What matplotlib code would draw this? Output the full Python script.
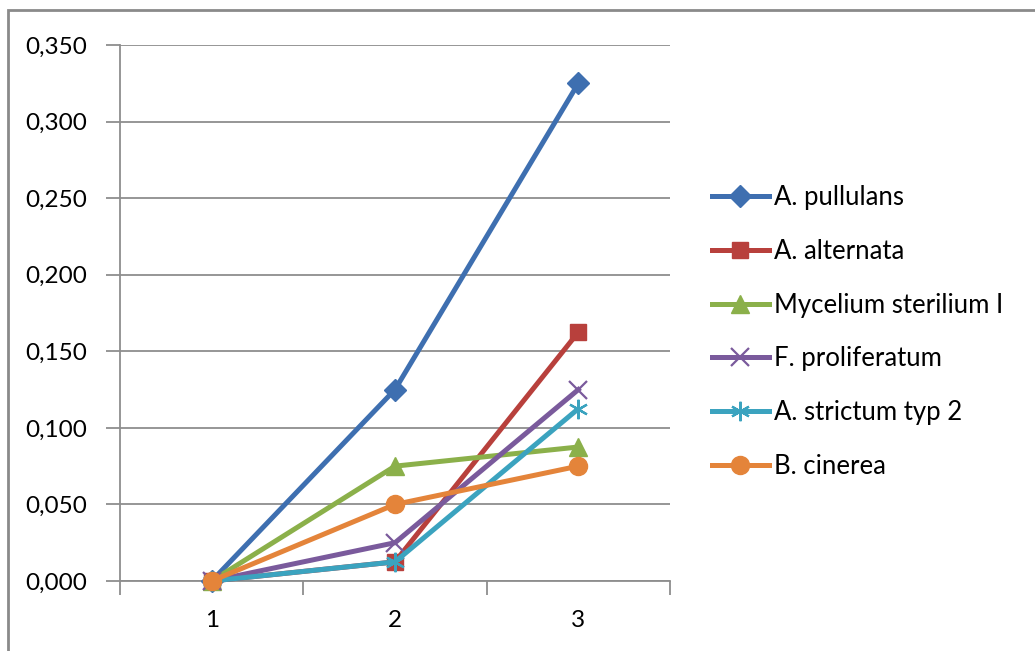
import matplotlib.pyplot as plt
from matplotlib.patches import Rectangle

# ---- data ------------------------------------------------------------------

categories = [1, 2, 3]
series_names = [
    "A. pullulans",
    "A. alternata",
    "Mycelium sterilium I",
    "F. proliferatum",
    "A. strictum typ 2",
    "B. cinerea",
]
pullulans = [0.000, 0.125, 0.325]
alternata = [0.000, 0.0125, 0.1625]
mycelium = [0.000, 0.075, 0.0875]
proliferatum = [0.000, 0.025, 0.125]
strictum = [0.000, 0.0125, 0.1125]
cinerea = [0.000, 0.050, 0.075]
y_ticks = [0.0, 0.05, 0.10, 0.15, 0.20, 0.25, 0.30, 0.35]

# ---- style -----------------------------------------------------------------

plt.rcParams["font.family"] = ["Lato", "DejaVu Sans"]
GRID = "#8e8e8e"
styles = [
    dict(color="#3e6fb0", marker="D", ms=11.5),
    dict(color="#b8403c", marker="s", ms=12),
    dict(color="#8bb04a", marker="^", ms=13.5),
    dict(color="#7a5a9c", marker="x", ms=13, mew=1.6),
    dict(color="#3ba3bf", marker=(6, 2, 0), ms=14, mew=1.6),
    dict(color="#e4843a", marker="o", ms=13),
]
values = [pullulans, alternata, mycelium, proliferatum, strictum, cinerea]

fig = plt.figure(figsize=(10.35, 6.51), dpi=100)
ax = fig.add_axes([120 / 1035, 1 - 581 / 651, 550 / 1035, 536 / 651])

for name, vals, st in zip(series_names, values, styles):
    ax.plot(categories, vals, lw=3.6, label=name, color=st["color"],
            marker=st["marker"], ms=st["ms"], mfc=st["color"], mec=st["color"],
            mew=st.get("mew", 1.0), clip_on=False, zorder=3)

ax.set_xlim(0.5, 3.5)
ax.set_ylim(0, 0.35)
ax.set_yticks(y_ticks)
ax.set_yticklabels([f"{v:.3f}".replace(".", ",") for v in y_ticks])
ax.yaxis.grid(True, color=GRID, lw=1.3)
ax.set_axisbelow(True)

# category boundaries carry the tick marks, labels sit between them
ax.set_xticks([0.5, 1.5, 2.5, 3.5])
ax.set_xticklabels([])
ax.set_xticks(categories, minor=True)
ax.set_xticklabels([str(c) for c in categories], minor=True)
ax.tick_params(axis="x", which="major", length=10, width=1.3, color=GRID)
ax.tick_params(axis="x", which="minor", length=0, pad=21, labelsize=17.5)
ax.tick_params(axis="y", length=10, width=1.3, color=GRID, pad=14, labelsize=17.5)

for side in ("top", "right"):
    ax.spines[side].set_visible(False)
for side in ("left", "bottom"):
    ax.spines[side].set_color(GRID)
    ax.spines[side].set_linewidth(1.3)

fig.legend(loc="center left", bbox_to_anchor=(712 / 1035, 1 - 332 / 651),
           frameon=False, fontsize=18.5, handlelength=2.2, handletextpad=0.2,
           labelspacing=1.12, borderpad=0, borderaxespad=0)

# outer chart frame
fig.patches.append(Rectangle((8 / 1035, -0.05), 1.1, 1 - 10 / 651 + 0.05,
                             transform=fig.transFigure, fill=False,
                             edgecolor="#8a8a8a", lw=2))

fig.savefig("out.png", dpi=100)
